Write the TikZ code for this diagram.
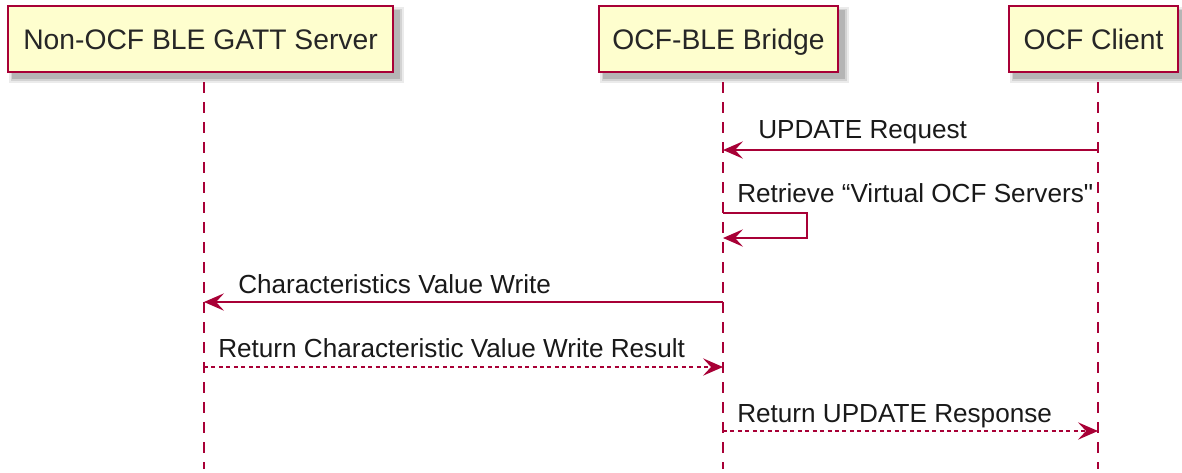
\documentclass[tikz,border=0pt]{standalone}
\usepackage{fontspec}
\setmainfont{Liberation Sans}[Ligatures=TeXOff]
\usetikzlibrary{arrows.meta,backgrounds}
\definecolor{pumlred}{HTML}{A80036}
\definecolor{pumlfill}{HTML}{FEFECE}
\begin{document}
\begin{tikzpicture}[x=0.75pt,y=-0.75pt,
  participant/.style={draw=pumlred, fill=pumlfill, line width=1.5pt,
    minimum height=49.5pt, inner sep=0pt, text height=15.9pt, text depth=0pt,
    font=\fontsize{21.2pt}{24pt}\selectfont, text=black!85},
  lifeline/.style={draw=pumlred, line width=1.2pt, dash pattern=on 8pt off 7pt},
  msgline/.style={draw=pumlred, line width=1.2pt,
    -{Stealth[length=15pt, width=13pt, inset=6pt]}},
  retline/.style={msgline, dash pattern=on 3pt off 2.6pt},
  selfline/.style={msgline},
  msglabel/.style={anchor=base west, inner sep=0pt,
    font=\fontsize{19.6pt}{22pt}\selectfont, text=black!90}
]
\useasboundingbox (0,0) rectangle (1182,472);

% participants
\node[participant, minimum width=288.75pt] (gatt) at (200.5,38.7) {Non-OCF BLE GATT Server};
\node[participant, minimum width=179.25pt] (bridge) at (718.5,38.7) {OCF-BLE Bridge};
\node[participant, minimum width=126.75pt] (client) at (1093.5,38.7) {OCF Client};

% shadows
\begin{scope}[on background layer]
\foreach \n in {gatt,bridge,client}{
  \fill[black,opacity=0.08] ([shift={(2,2)}]\n.north west) rectangle ([shift={(10,10)}]\n.south east);
  \fill[black,opacity=0.10] ([shift={(4,4)}]\n.north west) rectangle ([shift={(8,8)}]\n.south east);
  \fill[black,opacity=0.14] ([shift={(5,5)}]\n.north west) rectangle ([shift={(6,6)}]\n.south east);
}
\end{scope}

% lifelines
\coordinate (gtop) at (204,82);   \coordinate (gbot) at (204,469);
\coordinate (btop) at (723,82);   \coordinate (bbot) at (723,469);
\coordinate (ctop) at (1098,82);  \coordinate (cbot) at (1098,469);
\draw[lifeline] (gtop) -- (gbot);
\draw[lifeline] (btop) -- (bbot);
\draw[lifeline] (ctop) -- (cbot);

% message 1
\coordinate (c1) at (1098,150); \coordinate (b1) at (723,150);
\draw[msgline] (c1) -- (b1);
\node[msglabel] (m1) at (758,138) {UPDATE Request};

% message 2 (self)
\coordinate (b2a) at (723,213); \coordinate (s2a) at (807,213);
\coordinate (s2b) at (807,238); \coordinate (b2b) at (723,238);
\draw[selfline] (b2a) -- (s2a) -- (s2b) -- (b2b);
\node[msglabel] (m2) at (737,202) {Retrieve “Virtual OCF Servers"};

% message 3
\coordinate (b3) at (723,302); \coordinate (g3) at (204,302);
\draw[msgline] (b3) -- (g3);
\node[msglabel] (m3) at (238,293) {Characteristics Value Write};

% message 4
\coordinate (g4) at (204,367); \coordinate (b4) at (723,367);
\draw[retline] (g4) -- (b4);
\node[msglabel] (m4) at (218,357) {Return Characteristic Value Write Result};

% message 5
\coordinate (b5) at (723,431); \coordinate (c5) at (1098,431);
\draw[retline] (b5) -- (c5);
\node[msglabel] (m5) at (737,422) {Return UPDATE Response};
\end{tikzpicture}
\end{document}
